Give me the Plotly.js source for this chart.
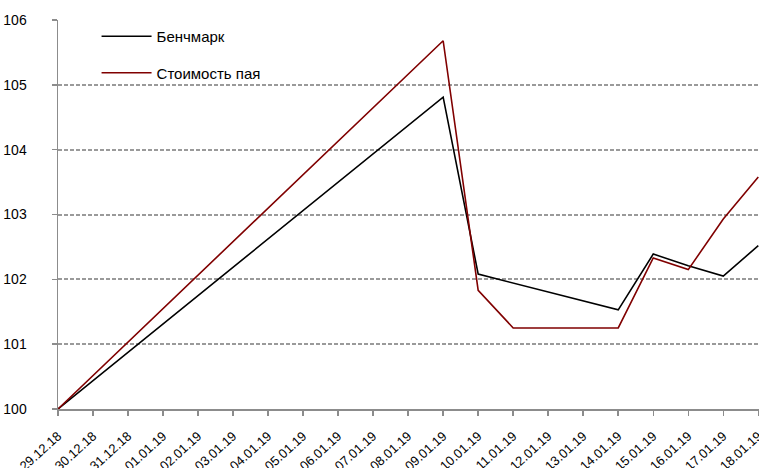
<!DOCTYPE html>
<html>
<head>
<meta charset="utf-8">
<script src="https://cdn.plot.ly/plotly-3.0.1.min.js"></script>
<style>html,body{margin:0;padding:0;background:#fff;}#chart{width:759px;height:468px;}</style>
</head>
<body>
<div id="chart"></div>
<script>
const dates = ["29.12.18","30.12.18","31.12.18","01.01.19","02.01.19","03.01.19","04.01.19","05.01.19","06.01.19","07.01.19","08.01.19","09.01.19","10.01.19","11.01.19","12.01.19","13.01.19","14.01.19","15.01.19","16.01.19","17.01.19","18.01.19"];
const benchmark = [100,null,null,null,null,null,null,null,null,null,null,104.81,102.08,101.94,null,null,101.53,102.39,102.21,102.05,102.52];
const unitValue = [100,null,null,null,null,null,null,null,null,null,null,105.68,101.83,101.25,null,null,101.25,102.33,102.15,102.93,103.58];
const seriesNames = ["Бенчмарк","Стоимость пая"];
const yTicks = [100,101,102,103,104,105,106];

const traces = [
  {x: dates, y: benchmark, name: seriesNames[0], type: "scatter", mode: "lines", connectgaps: true,
   line: {color: "#000000", width: 1.6}, legendgroup: "a"},
  {x: dates, y: unitValue, name: seriesNames[1], type: "scatter", mode: "lines", connectgaps: true,
   line: {color: "#800000", width: 1.6}, legendgroup: "b"}
];

const layout = {
  width: 759, height: 468,
  margin: {l: 58, r: 0, t: 20, b: 59},
  paper_bgcolor: "#ffffff", plot_bgcolor: "#ffffff",
  font: {family: "Liberation Sans, Arial, sans-serif", size: 13, color: "#000"},
  showlegend: true,
  legend: {x: 0.055, y: 1.0, xanchor: "left", yanchor: "top", bgcolor: "rgba(0,0,0,0)",
           font: {size: 15}, tracegroupgap: 14, itemwidth: 50, traceorder: "grouped"},
  xaxis: {type: "category", range: [0, 20.02], tickangle: -42, automargin: false,
          showgrid: false, showline: true, linecolor: "#8c8c8c", linewidth: 1.5,
          ticks: "outside", ticklen: 5, tickcolor: "#8c8c8c", tickwidth: 1.5,
          ticklabelstandoff: 8, tickfont: {size: 13}, zeroline: false},
  yaxis: {range: [100, 106], tickvals: yTicks, automargin: false,
          showgrid: true, gridcolor: "#9a9a9a", gridwidth: 2, griddash: "4px,2px",
          showline: true, linecolor: "#8c8c8c", linewidth: 1.5,
          ticks: "outside", ticklen: 5, tickcolor: "#8c8c8c", tickwidth: 1.5,
          ticklabelstandoff: 22, tickfont: {size: 14}, zeroline: false}
};

Plotly.newPlot("chart", traces, layout, {staticPlot: true, displayModeBar: false});
</script>
</body>
</html>
